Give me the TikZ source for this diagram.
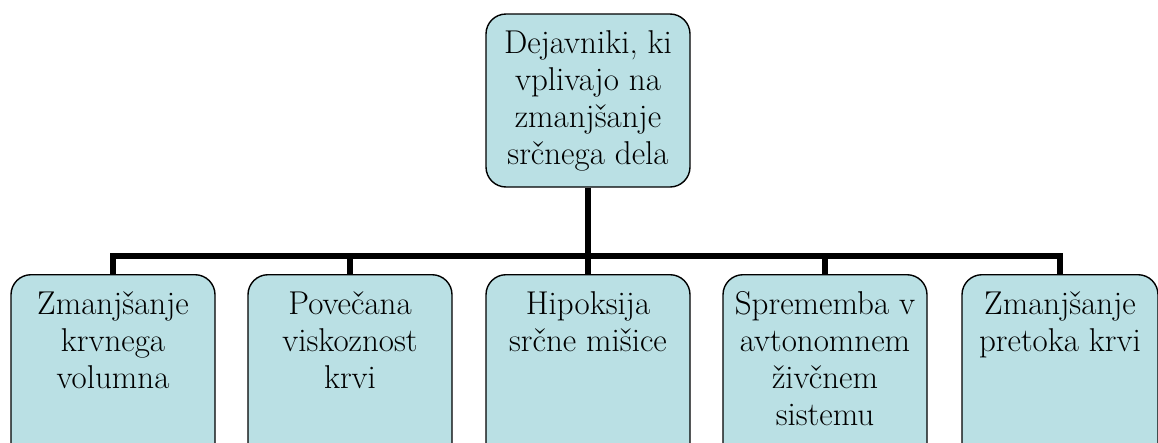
\documentclass[tikz,border=0pt]{standalone}
\usepackage{fontspec}
\definecolor{boxfill}{RGB}{186,224,228}
\begin{document}
\begin{tikzpicture}[x=1pt,y=-1pt,
  box/.style={draw=black, line width=1.4pt, fill=boxfill, rounded corners=20pt, inner sep=0pt},
  topbox/.style={box, minimum width=204pt, minimum height=173pt, align=center, font=\fontsize{33}{37}\selectfont},
  leafbox/.style={box, anchor=north, minimum width=204pt, font=\fontsize{33}{37}\selectfont},
  conn/.style={draw=black, line width=6.5pt}]
\useasboundingbox (0,0) rectangle (1158,442);
\clip (0,0) rectangle (1158,442);
\newcommand{\leaftext}[1]{\parbox[t][190pt][t]{200pt}{\centering\rule{0pt}{40pt}#1}}
\node[topbox] (top) at (588,100.5) {Dejavniki, ki\\vplivajo na\\zmanjšanje\\srčnega dela};
\node[leafbox] (b1) at (113,274) {\leaftext{Zmanjšanje\\krvnega\\volumna}};
\node[leafbox] (b2) at (350,274) {\leaftext{Povečana\\viskoznost\\krvi}};
\node[leafbox] (b3) at (588,274) {\leaftext{Hipoksija\\srčne mišice}};
\node[leafbox] (b4) at (825,274) {\leaftext{Sprememba v\\avtonomnem\\živčnem\\sistemu}};
\node[leafbox, minimum width=196pt] (b5) at (1060,274) {\parbox[t][190pt][t]{192pt}{\centering\rule{0pt}{40pt}Zmanjšanje\\pretoka krvi}};
\coordinate (bar) at (588,256);
\draw[conn] (top.south) -- (bar);
\draw[conn] (bar) -| (b1.north);
\draw[conn] (bar) -| (b2.north);
\draw[conn] (bar) -- (b3.north);
\draw[conn] (bar) -| (b4.north);
\draw[conn] (bar) -| (b5.north);
\end{tikzpicture}
\end{document}
